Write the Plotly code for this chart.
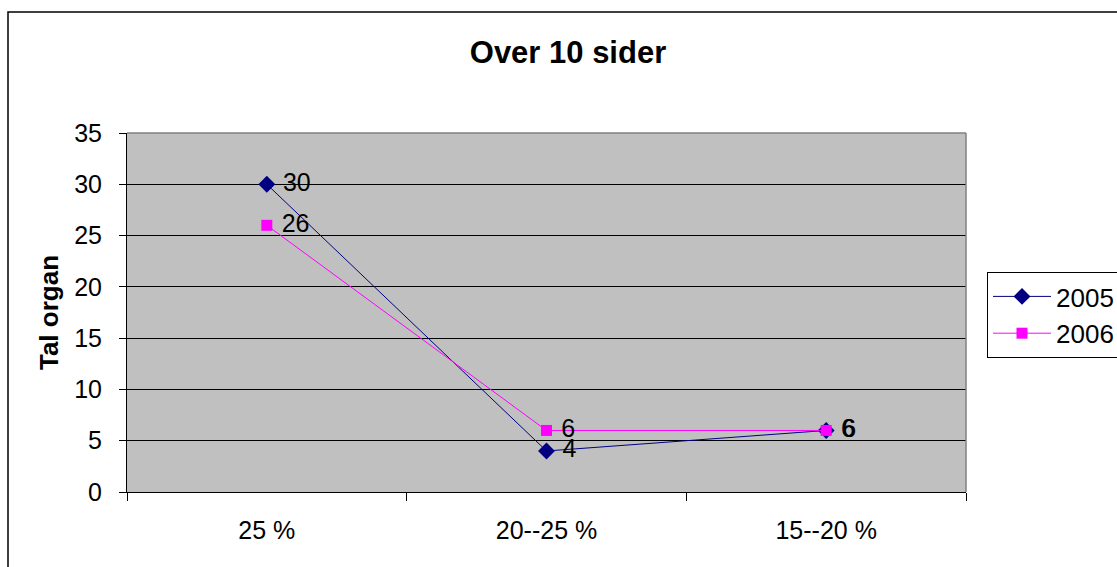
import plotly.graph_objects as go

categories = ["25 %", "20--25 %", "15--20 %"]
series_names = ["2005", "2006"]
values_2005 = [30, 4, 6]
values_2006 = [26, 6, 6]
y_ticks = [0, 5, 10, 15, 20, 25, 30, 35]

W, H = 1117, 567
L, R, T, B = 127, 151, 133, 75
pw, ph = W - L - R, H - T - B
FONT = "Liberation Sans, Arial"

fig = go.Figure()
fig.add_trace(go.Scatter(
    x=categories, y=values_2005, name=series_names[0], mode="lines+markers+text",
    line=dict(color="#000080", width=1),
    marker=dict(symbol="diamond", size=13, color="#000080"),
    text=["\u00a0" + str(v) for v in values_2005], textposition="middle right",
    textfont=dict(family=FONT, size=25, color="black"),
    cliponaxis=False,
))
fig.add_trace(go.Scatter(
    x=categories, y=values_2006, name=series_names[1], mode="lines+markers+text",
    line=dict(color="#FF00FF", width=1),
    marker=dict(symbol="square", size=11, color="#FF00FF"),
    text=["\u00a0" + str(v) for v in values_2006], textposition="middle right",
    textfont=dict(family=FONT, size=25, color="black"),
    cliponaxis=False,
))

def px_x(p):
    return (p - L) / pw

def px_y(p):
    return (H - B - p) / ph

fig.add_shape(type="rect", xref="paper", yref="paper",
              x0=px_x(8), x1=px_x(1130), y0=px_y(580), y1=px_y(12),
              line=dict(color="black", width=1.5), layer="below")

fig.update_layout(
    width=W, height=H,
    margin=dict(l=L, r=R, t=T, b=B, autoexpand=False),
    paper_bgcolor="white", plot_bgcolor="#C0C0C0",
    font=dict(family=FONT, size=25, color="black"),
    title=dict(text="<b>Over 10 sider</b>", x=568 / W, xref="container", y=(H - 52) / H,
               yanchor="middle", xanchor="center", font=dict(size=31)),
    showlegend=True,
    legend=dict(x=px_x(987), y=px_y(272), xanchor="left", yanchor="top",
                bordercolor="black", borderwidth=1, bgcolor="white",
                font=dict(size=26), itemwidth=58, tracegroupgap=0),
    xaxis=dict(type="category", tickson="boundaries", ticks="outside", ticklen=8,
               tickcolor="black", showline=True, linecolor="black", linewidth=1,
               showgrid=False, range=[-0.5, 2.5], ticklabelstandoff=16,
               tickfont=dict(size=25)),
    yaxis=dict(range=[0, 35], tickvals=y_ticks, ticks="outside", ticklen=7,
               tickcolor="black", showline=True, linecolor="black", linewidth=1,
               showgrid=True, gridcolor="black", gridwidth=1, zeroline=False,
               ticklabelstandoff=12, tickfont=dict(size=25),
               title=dict(text="<b>Tal organ</b>", font=dict(size=26), standoff=8)),
)
fig.add_shape(type="line", xref="paper", yref="paper", x0=0, x1=1, y0=1, y1=1,
              line=dict(color="#808080", width=1.5))
fig.add_shape(type="line", xref="paper", yref="paper", x0=1, x1=1, y0=0, y1=1,
              line=dict(color="#808080", width=1.5))

fig.write_html("out.html", config={"displayModeBar": False},
               post_script="document.body.style.margin='0';document.body.style.overflow='hidden';")
